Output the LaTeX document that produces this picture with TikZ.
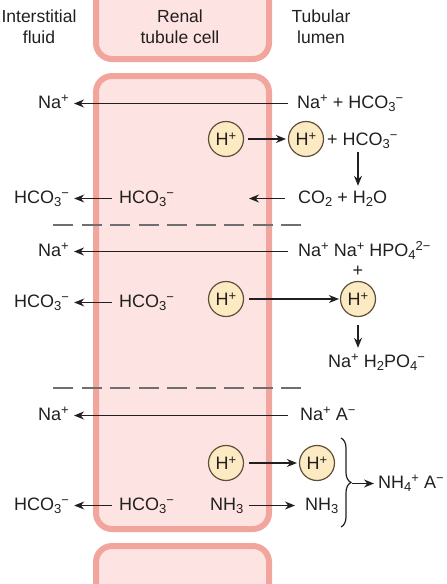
\documentclass[tikz,border=0pt]{standalone}
\usepackage{fontspec}
\setmainfont{Liberation Sans}
\usetikzlibrary{arrows.meta,decorations.pathreplacing}
\definecolor{cellfill}{HTML}{FDE4E2}
\definecolor{celledge}{HTML}{F2A59D}
\definecolor{hfill}{HTML}{FCEAC3}
\definecolor{hedge}{HTML}{5E4E3A}
\definecolor{ink}{HTML}{231F20}
\definecolor{dashgray}{HTML}{6F6F6F}
\newcommand\sps[1]{\raisebox{5.5pt}{\fontsize{13}{13}\selectfont #1}}
\newcommand\sbs[1]{\raisebox{-3.5pt}{\fontsize{13}{13}\selectfont #1}}
\newcommand\Nap{Na\sps{+}}
\newcommand\HCOm{HCO\sbs{3}\sps{−}}
\newcommand\Hp{H\sps{+}}
\begin{document}
\begin{tikzpicture}[x=1pt,y=-1pt,
  font=\fontsize{18}{22}\selectfont,
  txt/.style={inner sep=0pt, text height=13pt, text depth=4pt, anchor=west, text=ink},
  hdr/.style={align=center, inner sep=0pt, text=ink, font=\fontsize{17.5}{21}\selectfont},
  hion/.style={circle, draw=hedge, fill=hfill, line width=1.2pt, minimum size=35pt, inner sep=0pt, text=ink},
  arr/.style={-{Stealth[length=10pt,width=8pt]}, line width=1.3pt, draw=ink},
  cell/.style={draw=celledge, fill=cellfill, line width=6pt, rounded corners=16pt},
  dashline/.style={draw=dashgray, line width=1.5pt, dash pattern=on 20pt off 8.5pt},
  bracestyle/.style={draw=ink, line width=1.2pt, decorate, decoration={brace, amplitude=10pt}}]
\useasboundingbox (0,0) rectangle (447,584);
% cells
\path[cell] (96,-30) rectangle (269,59);
\path[cell] (96,76) rectangle (269,529);
\path[cell] (96,546) rectangle (269,640);
% headers
\node[hdr] (hif) at (39,27) {Interstitial\\fluid};
\node[hdr] (hrc) at (180,27) {Renal\\tubule cell};
\node[hdr] (htl) at (321,27) {Tubular\\lumen};
% row 1
\node[txt] (na1l) at (38,103.5) {\Nap};
\node[txt] (na1r) at (297,103.5) {\Nap{} + \HCOm};
\draw[arr, shorten <=9pt, shorten >=5pt] (na1r.west) -- (na1l.east);
% row 2
\node[hion] (h2l) at (226,139) {\Hp};
\node[hion] (h2r) at (306,139) {\Hp};
\node[txt] (hco2) at (327,140.5) {+ \HCOm};
\draw[arr, shorten <=4pt, shorten >=2pt] (h2l) -- (h2r);
% row 3
\node[txt] (hco3l) at (14,198.5) {\HCOm};
\node[txt] (hco3m) at (119,198.5) {\HCOm};
\node[txt] (co2) at (298,198.5) {CO\sbs{2} + H\sbs{2}O};
\coordinate (c3) at (249,198.5);
\coordinate (vx1) at (358,0);
\draw[arr, shorten <=7pt, shorten >=5pt] (hco3m.west) -- (hco3l.east);
\draw[arr, shorten <=13pt] (co2.west) -- (c3);
\draw[arr, shorten <=3pt, shorten >=4pt] (hco2.south -| vx1) -- (co2.north -| vx1);
% dashed 1
\draw[dashline] (53,225) -- (306,225);
% row 4
\node[txt] (na4l) at (38,251.5) {\Nap};
\node[txt] (na4r) at (298,251.5) {\Nap{} \Nap{} HPO\sbs{4}\sps{2−}};
\draw[arr, shorten <=10pt, shorten >=5pt] (na4r.west) -- (na4l.east);
\node[txt, anchor=center] (plus4) at (358,272) {+};
% row 5
\node[txt] (hco5l) at (14,302.5) {\HCOm};
\node[txt] (hco5m) at (119,302.5) {\HCOm};
\node[hion] (h5l) at (226,299) {\Hp};
\node[hion] (h5r) at (358,299) {\Hp};
\draw[arr, shorten <=7pt, shorten >=5pt] (hco5m.west) -- (hco5l.east);
\draw[arr, shorten <=5pt, shorten >=1pt] (h5l) -- (h5r);
\node[txt] (nahpo) at (328,362.5) {\Nap{} H\sbs{2}PO\sbs{4}\sps{−}};
\draw[arr, shorten <=8pt, shorten >=6pt] (h5r.south) -- (h5r.south |- nahpo.north);
% dashed 2
\draw[dashline] (53,388) -- (306,388);
% row 6
\node[txt] (na6l) at (38,415.5) {\Nap};
\node[txt] (na6r) at (300,415.5) {\Nap{} A\sps{−}};
\draw[arr, shorten <=12pt, shorten >=5pt] (na6r.west) -- (na6l.east);
% row 7
\node[hion] (h7l) at (226,463) {\Hp};
\node[hion] (h7r) at (317,463) {\Hp};
\draw[arr, shorten <=5pt, shorten >=2pt] (h7l) -- (h7r);
% row 8
\node[txt] (hco8l) at (14,505.5) {\HCOm};
\node[txt] (hco8m) at (119,505.5) {\HCOm};
\node[txt] (nh3l) at (210,505.5) {NH\sbs{3}};
\node[txt] (nh3r) at (305,505.5) {NH\sbs{3}};
\draw[arr, shorten <=7pt, shorten >=5pt] (hco8m.west) -- (hco8l.east);
\draw[arr, shorten <=5pt, shorten >=10pt] (nh3l.east) -- (nh3r.west);
% brace
\coordinate (bt) at (341,438);
\coordinate (bb) at (341,527);
\draw[bracestyle] (bt) -- (bb);
\coordinate (btip) at (352,483.5);
\node[txt] (nh4) at (378,483.5) {NH\sbs{4}\sps{+} A\sps{−}};
\draw[arr, shorten >=4pt] (btip) -- (nh4.west);
\end{tikzpicture}
\end{document}
